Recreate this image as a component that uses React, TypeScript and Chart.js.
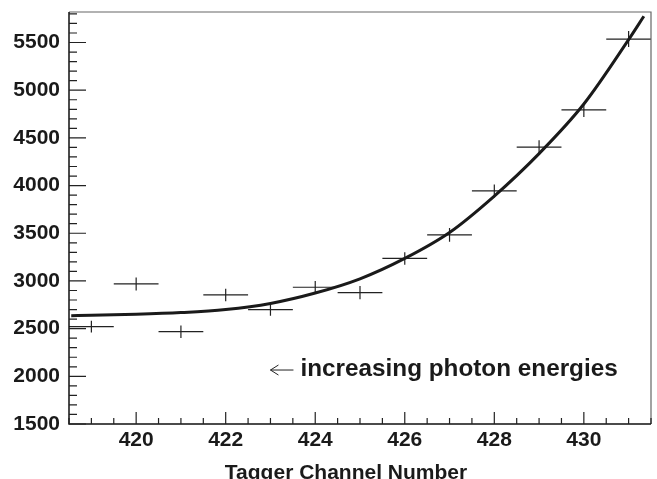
import React, { useEffect, useRef } from "react";
import { Chart, registerables } from "chart.js";

Chart.register(...registerables);

// ---- data ----
const channels = [419, 420, 421, 422, 423, 424, 425, 426, 427, 428, 429, 430, 431];
const counts = [2521, 2969, 2468, 2853, 2699, 2934, 2877, 3236, 3483, 3944, 4403, 4794, 5536];
const countErrors = [61, 68, 65, 66, 65, 66, 70, 66, 72, 68, 73, 75, 84];
const binHalfWidth = 0.5;

const fitX = [418.55, 419, 420, 421, 422, 423, 424, 425, 426, 427, 428, 429, 430, 431, 431.34];
const fitY = [2636, 2639, 2650, 2668, 2700, 2764, 2873, 3022, 3236, 3508, 3890, 4335, 4855, 5530, 5775];

const xTicks = [420, 422, 424, 426, 428, 430];
const yTicks = [1500, 2000, 2500, 3000, 3500, 4000, 4500, 5000, 5500];
const xRange = [418.5, 431.5];
const yRange = [1500, 5820];
const xMinorStep = 0.5;
const yMinorStep = 100;

const xTitle = "Tagger Channel Number";
const noteText = "increasing photon energies";
const noteAnchor = [423, 2066];

const FONT = "'Liberation Sans', Arial, Helvetica, sans-serif";

const rootStyle = {
  id: "rootStyle",
  beforeDatasetsDraw(chart: any) {
    const { ctx } = chart;
    const xs = chart.scales.x;
    const ys = chart.scales.y;
    ctx.save();
    ctx.strokeStyle = "#222";
    ctx.lineWidth = 1.2;
    ctx.beginPath();
    channels.forEach((c, i) => {
      const xl = xs.getPixelForValue(Math.max(c - binHalfWidth, xRange[0]));
      const xr = xs.getPixelForValue(Math.min(c + binHalfWidth, xRange[1]));
      const xc = xs.getPixelForValue(c);
      const yc = ys.getPixelForValue(counts[i]);
      const yt = ys.getPixelForValue(counts[i] + countErrors[i]);
      const yb = ys.getPixelForValue(counts[i] - countErrors[i]);
      ctx.moveTo(xl, yc);
      ctx.lineTo(xr, yc);
      ctx.moveTo(xc, yt);
      ctx.lineTo(xc, yb);
    });
    ctx.stroke();
    ctx.restore();
  },
  afterDraw(chart: any) {
    const { ctx, chartArea } = chart;
    const { left, right, top, bottom } = chartArea;
    const xs = chart.scales.x;
    const ys = chart.scales.y;
    ctx.save();
    // frame top/right
    ctx.strokeStyle = "#666";
    ctx.lineWidth = 1.2;
    ctx.beginPath();
    ctx.moveTo(left, top);
    ctx.lineTo(right, top);
    ctx.lineTo(right, bottom);
    ctx.stroke();
    // axes
    ctx.strokeStyle = "#111";
    ctx.lineWidth = 1.5;
    ctx.beginPath();
    ctx.moveTo(left, top);
    ctx.lineTo(left, bottom);
    ctx.lineTo(right, bottom);
    ctx.stroke();
    // ticks
    ctx.lineWidth = 1.2;
    ctx.strokeStyle = "#222";
    ctx.beginPath();
    for (let v = yRange[0]; v <= yRange[1] + 1e-6; v += yMinorStep) {
      const major = yTicks.some((t) => Math.abs(t - v) < 1e-6);
      const py = ys.getPixelForValue(v);
      ctx.moveTo(left, py);
      ctx.lineTo(left + (major ? 17 : 8), py);
    }
    for (let v = xRange[0]; v <= xRange[1] + 1e-6; v += xMinorStep) {
      const major = xTicks.some((t) => Math.abs(t - v) < 1e-6);
      const px = xs.getPixelForValue(v);
      ctx.moveTo(px, bottom);
      ctx.lineTo(px, bottom - (major ? 12 : 6));
    }
    ctx.stroke();
    // annotation
    const ax = xs.getPixelForValue(noteAnchor[0]);
    const ay = ys.getPixelForValue(noteAnchor[1]);
    ctx.strokeStyle = "#222";
    ctx.lineWidth = 1;
    ctx.beginPath();
    ctx.moveTo(ax, ay);
    ctx.lineTo(ax + 23, ay);
    ctx.moveTo(ax + 8, ay - 5);
    ctx.lineTo(ax, ay);
    ctx.lineTo(ax + 8, ay + 5);
    ctx.stroke();
    ctx.fillStyle = "#1a1a1a";
    ctx.font = `bold 24.3px ${FONT}`;
    ctx.textAlign = "left";
    ctx.textBaseline = "alphabetic";
    ctx.fillText(noteText, ax + 30, ay + 6);
    // x title
    ctx.font = `bold 21px ${FONT}`;
    ctx.textAlign = "center";
    ctx.fillText(xTitle, (left + right) / 2 - 14, chart.height);
    ctx.restore();
  },
};

export default function App() {
  const ref = useRef<HTMLCanvasElement>(null);
  useEffect(() => {
    if (!ref.current) return;
    const chart = new Chart(ref.current, {
      type: "scatter",
      data: {
        datasets: [
          {
            type: "line",
            data: fitX.map((x, i) => ({ x, y: fitY[i] })),
            borderColor: "#1a1a1a",
            borderWidth: 3,
            pointRadius: 0,
            cubicInterpolationMode: "monotone",
            fill: false,
          } as any,
          {
            type: "scatter",
            data: channels.map((x, i) => ({ x, y: counts[i] })),
            pointRadius: 0,
            borderWidth: 0,
          },
        ],
      },
      options: {
        animation: false,
        responsive: false,
        devicePixelRatio: 1,
        layout: { padding: { top: 12, right: 6, left: 0, bottom: 0 } },
        plugins: { legend: { display: false }, tooltip: { enabled: false } },
        scales: {
          x: {
            type: "linear",
            min: xRange[0],
            max: xRange[1],
            grid: { display: false, drawTicks: false },
            border: { display: false },
            afterBuildTicks: (s: any) => {
              s.ticks = xTicks.map((v) => ({ value: v }));
            },
            afterFit: (s: any) => {
              s.height = 55;
              s.paddingLeft = 0;
              s.paddingRight = 0;
            },
            ticks: {
              autoSkip: false,
              maxRotation: 0,
              padding: 4,
              color: "#1a1a1a",
              font: { family: FONT, weight: "bold", size: 21 },
              callback: (v: any) => String(v),
            },
          },
          y: {
            type: "linear",
            min: yRange[0],
            max: yRange[1],
            grid: { display: false, drawTicks: false },
            border: { display: false },
            afterBuildTicks: (s: any) => {
              s.ticks = yTicks.map((v) => ({ value: v }));
            },
            afterFit: (s: any) => {
              s.width = 69;
              s.paddingTop = 0;
              s.paddingBottom = 0;
            },
            ticks: {
              autoSkip: false,
              padding: 9,
              color: "#1a1a1a",
              font: { family: FONT, weight: "bold", size: 21 },
              callback: (v: any) => String(v),
            },
          },
        },
      },
      plugins: [rootStyle],
    });
    return () => chart.destroy();
  }, []);
  return (
    <div style={{ position: "fixed", left: 0, top: 0, width: 657, height: 479, background: "#fff" }}>
      <canvas ref={ref} width={657} height={479} style={{ display: "block" }} />
    </div>
  );
}
